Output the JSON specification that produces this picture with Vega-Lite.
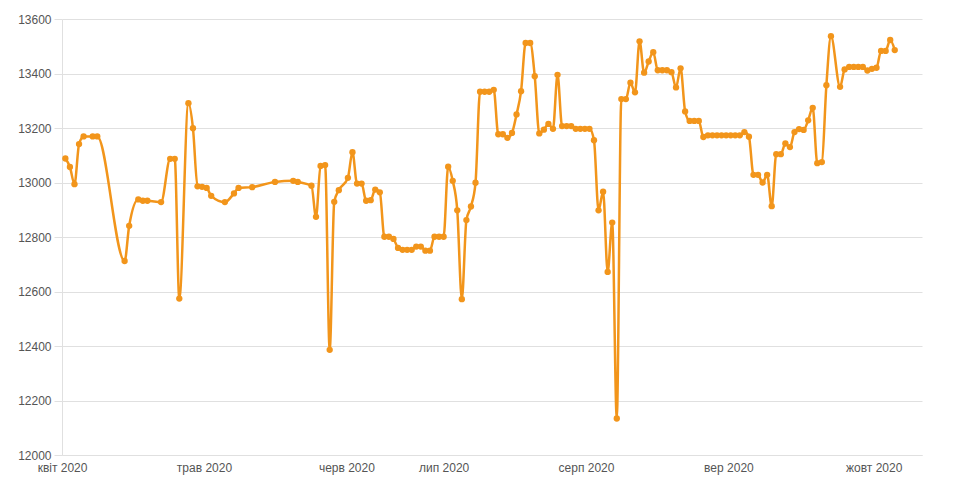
{
  "$schema": "https://vega.github.io/schema/vega-lite/v6.json",
  "width": 860,
  "height": 436,
  "autosize": {"type": "none"},
  "padding": {"left": 62, "top": 19, "right": 33, "bottom": 36},
  "background": "white",
  "config": {
    "view": {"stroke": null},
    "font": "Liberation Sans",
    "axis": {"labelFont": "Liberation Sans", "labelFontSize": 12, "labelColor": "#555555"}
  },
  "data": {
    "values": [
      {"date": "2020-04-09", "value": 13088},
      {"date": "2020-04-10", "value": 13057},
      {"date": "2020-04-11", "value": 12994},
      {"date": "2020-04-12", "value": 13141},
      {"date": "2020-04-13", "value": 13169},
      {"date": "2020-04-15", "value": 13169},
      {"date": "2020-04-16", "value": 13169},
      {"date": "2020-04-22", "value": 12712},
      {"date": "2020-04-23", "value": 12841},
      {"date": "2020-04-25", "value": 12938},
      {"date": "2020-04-26", "value": 12933},
      {"date": "2020-04-27", "value": 12933},
      {"date": "2020-04-30", "value": 12928},
      {"date": "2020-05-02", "value": 13087},
      {"date": "2020-05-03", "value": 13087},
      {"date": "2020-05-04", "value": 12574},
      {"date": "2020-05-06", "value": 13291},
      {"date": "2020-05-07", "value": 13199},
      {"date": "2020-05-08", "value": 12986},
      {"date": "2020-05-09", "value": 12984},
      {"date": "2020-05-10", "value": 12980},
      {"date": "2020-05-11", "value": 12951},
      {"date": "2020-05-14", "value": 12928},
      {"date": "2020-05-16", "value": 12960},
      {"date": "2020-05-17", "value": 12980},
      {"date": "2020-05-20", "value": 12983},
      {"date": "2020-05-25", "value": 13002},
      {"date": "2020-05-29", "value": 13006},
      {"date": "2020-05-30", "value": 13002},
      {"date": "2020-06-02", "value": 12988},
      {"date": "2020-06-03", "value": 12874},
      {"date": "2020-06-04", "value": 13061},
      {"date": "2020-06-05", "value": 13064},
      {"date": "2020-06-06", "value": 12386},
      {"date": "2020-06-07", "value": 12929},
      {"date": "2020-06-08", "value": 12972},
      {"date": "2020-06-10", "value": 13017},
      {"date": "2020-06-11", "value": 13111},
      {"date": "2020-06-12", "value": 12996},
      {"date": "2020-06-13", "value": 12996},
      {"date": "2020-06-14", "value": 12933},
      {"date": "2020-06-15", "value": 12935},
      {"date": "2020-06-16", "value": 12974},
      {"date": "2020-06-17", "value": 12964},
      {"date": "2020-06-18", "value": 12801},
      {"date": "2020-06-19", "value": 12801},
      {"date": "2020-06-20", "value": 12793},
      {"date": "2020-06-21", "value": 12760},
      {"date": "2020-06-22", "value": 12753},
      {"date": "2020-06-23", "value": 12753},
      {"date": "2020-06-24", "value": 12753},
      {"date": "2020-06-25", "value": 12765},
      {"date": "2020-06-26", "value": 12765},
      {"date": "2020-06-27", "value": 12750},
      {"date": "2020-06-28", "value": 12750},
      {"date": "2020-06-29", "value": 12801},
      {"date": "2020-06-30", "value": 12801},
      {"date": "2020-07-01", "value": 12801},
      {"date": "2020-07-02", "value": 13058},
      {"date": "2020-07-03", "value": 13006},
      {"date": "2020-07-04", "value": 12898},
      {"date": "2020-07-05", "value": 12572},
      {"date": "2020-07-06", "value": 12862},
      {"date": "2020-07-07", "value": 12912},
      {"date": "2020-07-08", "value": 12999},
      {"date": "2020-07-09", "value": 13333},
      {"date": "2020-07-10", "value": 13333},
      {"date": "2020-07-11", "value": 13333},
      {"date": "2020-07-12", "value": 13340},
      {"date": "2020-07-13", "value": 13177},
      {"date": "2020-07-14", "value": 13177},
      {"date": "2020-07-15", "value": 13164},
      {"date": "2020-07-16", "value": 13182},
      {"date": "2020-07-17", "value": 13250},
      {"date": "2020-07-18", "value": 13335},
      {"date": "2020-07-19", "value": 13512},
      {"date": "2020-07-20", "value": 13512},
      {"date": "2020-07-21", "value": 13390},
      {"date": "2020-07-22", "value": 13180},
      {"date": "2020-07-23", "value": 13194},
      {"date": "2020-07-24", "value": 13215},
      {"date": "2020-07-25", "value": 13197},
      {"date": "2020-07-26", "value": 13395},
      {"date": "2020-07-27", "value": 13207},
      {"date": "2020-07-28", "value": 13207},
      {"date": "2020-07-29", "value": 13207},
      {"date": "2020-07-30", "value": 13197},
      {"date": "2020-07-31", "value": 13197},
      {"date": "2020-08-01", "value": 13197},
      {"date": "2020-08-02", "value": 13197},
      {"date": "2020-08-03", "value": 13155},
      {"date": "2020-08-04", "value": 12898},
      {"date": "2020-08-05", "value": 12966},
      {"date": "2020-08-06", "value": 12672},
      {"date": "2020-08-07", "value": 12853},
      {"date": "2020-08-08", "value": 12134},
      {"date": "2020-08-09", "value": 13306},
      {"date": "2020-08-10", "value": 13306},
      {"date": "2020-08-11", "value": 13366},
      {"date": "2020-08-12", "value": 13331},
      {"date": "2020-08-13", "value": 13518},
      {"date": "2020-08-14", "value": 13403},
      {"date": "2020-08-15", "value": 13444},
      {"date": "2020-08-16", "value": 13478},
      {"date": "2020-08-17", "value": 13412},
      {"date": "2020-08-18", "value": 13412},
      {"date": "2020-08-19", "value": 13412},
      {"date": "2020-08-20", "value": 13405},
      {"date": "2020-08-21", "value": 13349},
      {"date": "2020-08-22", "value": 13419},
      {"date": "2020-08-23", "value": 13261},
      {"date": "2020-08-24", "value": 13226},
      {"date": "2020-08-25", "value": 13226},
      {"date": "2020-08-26", "value": 13226},
      {"date": "2020-08-27", "value": 13167},
      {"date": "2020-08-28", "value": 13173},
      {"date": "2020-08-29", "value": 13173},
      {"date": "2020-08-30", "value": 13173},
      {"date": "2020-08-31", "value": 13173},
      {"date": "2020-09-01", "value": 13173},
      {"date": "2020-09-02", "value": 13173},
      {"date": "2020-09-03", "value": 13173},
      {"date": "2020-09-04", "value": 13173},
      {"date": "2020-09-05", "value": 13185},
      {"date": "2020-09-06", "value": 13168},
      {"date": "2020-09-07", "value": 13028},
      {"date": "2020-09-08", "value": 13028},
      {"date": "2020-09-09", "value": 13000},
      {"date": "2020-09-10", "value": 13028},
      {"date": "2020-09-11", "value": 12913},
      {"date": "2020-09-12", "value": 13104},
      {"date": "2020-09-13", "value": 13104},
      {"date": "2020-09-14", "value": 13143},
      {"date": "2020-09-15", "value": 13130},
      {"date": "2020-09-16", "value": 13185},
      {"date": "2020-09-17", "value": 13196},
      {"date": "2020-09-18", "value": 13193},
      {"date": "2020-09-19", "value": 13228},
      {"date": "2020-09-20", "value": 13274},
      {"date": "2020-09-21", "value": 13071},
      {"date": "2020-09-22", "value": 13075},
      {"date": "2020-09-23", "value": 13357},
      {"date": "2020-09-24", "value": 13537},
      {"date": "2020-09-26", "value": 13351},
      {"date": "2020-09-27", "value": 13415},
      {"date": "2020-09-28", "value": 13424},
      {"date": "2020-09-29", "value": 13424},
      {"date": "2020-09-30", "value": 13424},
      {"date": "2020-10-01", "value": 13424},
      {"date": "2020-10-02", "value": 13411},
      {"date": "2020-10-03", "value": 13417},
      {"date": "2020-10-04", "value": 13421},
      {"date": "2020-10-05", "value": 13483},
      {"date": "2020-10-06", "value": 13483},
      {"date": "2020-10-07", "value": 13523},
      {"date": "2020-10-08", "value": 13486}
    ]
  },
  "mark": {
    "type": "line",
    "interpolate": "monotone",
    "color": "#F2951B",
    "strokeWidth": 2.5,
    "point": {"filled": true, "size": 40, "color": "#F2951B"}
  },
  "encoding": {
    "x": {
      "field": "date",
      "type": "temporal",
      "scale": {
        "type": "utc",
        "domain": [
          {"year": 2020, "month": 4, "date": 8, "hours": 6, "minutes": 14, "utc": true},
          {"year": 2020, "month": 10, "date": 13, "hours": 23, "minutes": 30, "utc": true}
        ],
        "nice": false
      },
      "axis": {
        "title": null,
        "grid": false,
        "ticks": false,
        "domain": true,
        "domainColor": "#e0e0e0",
        "labelPadding": 7,
        "labelAngle": 0,
        "labelOverlap": false,
        "labelFlush": false,
        "values": [
          {"year": 2020, "month": 4, "date": 8, "hours": 6, "minutes": 30, "utc": true},
          {"year": 2020, "month": 5, "date": 9, "hours": 10, "utc": true},
          {"year": 2020, "month": 6, "date": 9, "hours": 16, "utc": true},
          {"year": 2020, "month": 7, "date": 1, "hours": 0, "utc": true},
          {"year": 2020, "month": 8, "date": 1, "hours": 6, "utc": true},
          {"year": 2020, "month": 9, "date": 1, "hours": 12, "utc": true},
          {"year": 2020, "month": 10, "date": 3, "hours": 9, "utc": true}
        ],
        "labelExpr": "['січ','лют','бер','квіт','трав','черв','лип','серп','вер','жовт','лист','груд'][utcmonth(datum.value)] + ' ' + utcyear(datum.value)"
      }
    },
    "y": {
      "field": "value",
      "type": "quantitative",
      "scale": {"domain": [12000, 13600], "nice": false, "zero": false},
      "axis": {
        "title": null,
        "values": [12000, 12200, 12400, 12600, 12800, 13000, 13200, 13400, 13600],
        "format": "d",
        "grid": true,
        "gridColor": "#e0e0e0",
        "domain": true,
        "domainColor": "#e0e0e0",
        "ticks": true,
        "tickSize": 8,
        "tickColor": "#e0e0e0",
        "labelPadding": 3
      }
    }
  }
}
